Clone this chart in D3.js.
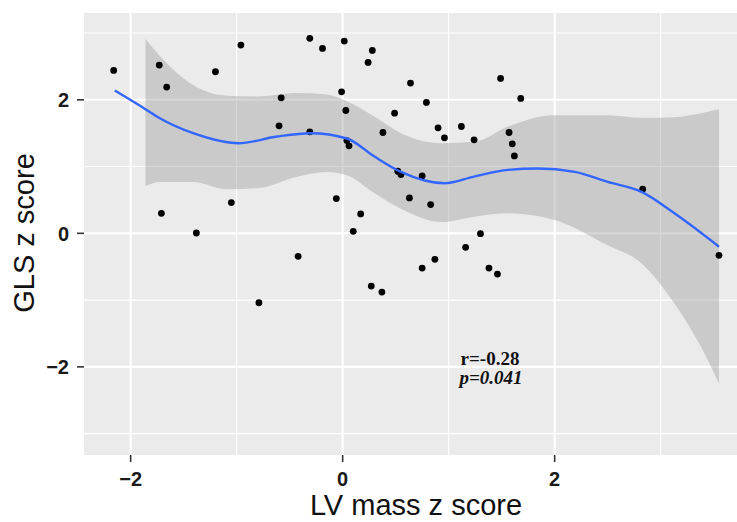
<!DOCTYPE html>
<html>
<head>
<meta charset="utf-8">
<script src="https://cdn.jsdelivr.net/npm/d3@7"></script>
<style>
  body { margin: 0; background: #fff; }
</style>
</head>
<body>
<script>
// scatter points (LV mass z, GLS z)
const lvMass = [-2.16, -1.73, -1.66, -1.20, -0.96, -0.31, -0.19, 0.015, 0.28, 0.24,
  -0.58, -0.60, -0.31, -0.01, 0.03, 0.04, 0.06, 0.49, 0.38, 0.52,
  0.55, 0.64, 0.79, 0.90, 0.96, 1.12, 1.24, 1.49, 1.68, 1.57,
  1.60, 1.62, 0.75, 0.63, 0.83, 2.83, 3.55, -1.71, -1.38, -1.05,
  -0.06, 0.17, 0.10, -0.42, 1.30, 1.16, 0.87, 0.75, 1.38, 1.46,
  -0.79, 0.27, 0.37];
const glsZ = [2.44, 2.52, 2.19, 2.42, 2.82, 2.92, 2.77, 2.88, 2.74, 2.56,
  2.03, 1.61, 1.52, 2.12, 1.84, 1.39, 1.31, 1.80, 1.51, 0.93,
  0.88, 2.25, 1.96, 1.58, 1.43, 1.60, 1.40, 2.32, 2.02, 1.51,
  1.34, 1.16, 0.86, 0.53, 0.43, 0.66, -0.33, 0.30, 0.005, 0.46,
  0.52, 0.29, 0.03, -0.345, -0.005, -0.21, -0.39, -0.52, -0.52, -0.61,
  -1.04, -0.79, -0.88];

// loess fit line
const fitX = [-2.15, -1.86, -1.72, -1.41, -0.98, -0.62, -0.30, 0.04, 0.30, 0.55,
  0.96, 1.24, 1.56, 1.84, 2.19, 2.50, 2.82, 3.13, 3.55];
const fitY = [2.14, 1.86, 1.72, 1.50, 1.35, 1.45, 1.50, 1.42, 1.15, 0.92,
  0.75, 0.85, 0.95, 0.97, 0.92, 0.77, 0.62, 0.30, -0.20];

// confidence band
const bandX = [-1.86, -1.72, -1.41, -1.09, -0.78, -0.45, -0.15, 0.04, 0.30, 0.55,
  0.93, 1.24, 1.56, 2.00, 2.50, 2.82, 3.13, 3.38, 3.55];
const bandHigh = [2.91, 2.65, 2.22, 2.06, 2.05, 2.10, 2.08, 1.98, 1.75, 1.50,
  1.35, 1.37, 1.60, 1.77, 1.77, 1.73, 1.74, 1.80, 1.86];
const bandLow = [0.71, 0.77, 0.77, 0.66, 0.68, 0.84, 0.92, 0.87, 0.60, 0.37,
  0.17, 0.25, 0.30, 0.20, -0.18, -0.45, -1.05, -1.70, -2.25];

const majorTicks = [-2, 0, 2];
const minorTicks = [-3, -1, 1, 3];
const statLines = ["r=-0.28", "p=0.041"];

const width = 737, height = 522;
const panel = { left: 84, right: 737, top: 13, bottom: 455 };

const x = d3.scaleLinear().domain([-2.44, 3.72]).range([panel.left, panel.right]);
const y = d3.scaleLinear().domain([-3.32, 3.30]).range([panel.bottom, panel.top]);

const svg = d3.select("body").append("svg")
  .attr("width", width)
  .attr("height", height);

svg.append("rect")
  .attr("x", panel.left).attr("y", panel.top)
  .attr("width", panel.right - panel.left)
  .attr("height", panel.bottom - panel.top)
  .attr("fill", "#ebebeb");

const grid = svg.append("g");

grid.selectAll(".vminor").data(minorTicks.filter(d => x(d) >= panel.left && x(d) <= panel.right))
  .join("line")
  .attr("x1", d => x(d)).attr("x2", d => x(d))
  .attr("y1", panel.top).attr("y2", panel.bottom)
  .attr("stroke", "#fff").attr("stroke-width", 1.1);

grid.selectAll(".hminor").data(minorTicks)
  .join("line")
  .attr("x1", panel.left).attr("x2", panel.right)
  .attr("y1", d => y(d)).attr("y2", d => y(d))
  .attr("stroke", "#fff").attr("stroke-width", 1.1);

grid.selectAll(".vmajor").data(majorTicks)
  .join("line")
  .attr("x1", d => x(d)).attr("x2", d => x(d))
  .attr("y1", panel.top).attr("y2", panel.bottom)
  .attr("stroke", "#fff").attr("stroke-width", 2.1);

grid.selectAll(".hmajor").data(majorTicks)
  .join("line")
  .attr("x1", panel.left).attr("x2", panel.right)
  .attr("y1", d => y(d)).attr("y2", d => y(d))
  .attr("stroke", "#fff").attr("stroke-width", 2.1);

// ribbon
const band = bandX.map((d, i) => ({ x: d, lo: bandLow[i], hi: bandHigh[i] }));
svg.append("path")
  .datum(band)
  .attr("d", d3.area()
    .x(d => x(d.x))
    .y0(d => y(d.lo))
    .y1(d => y(d.hi))
    .curve(d3.curveMonotoneX))
  .attr("fill", "#999999")
  .attr("fill-opacity", 0.4);

// points
svg.append("g").selectAll("circle")
  .data(lvMass.map((d, i) => [d, glsZ[i]]))
  .join("circle")
  .attr("cx", d => x(d[0]))
  .attr("cy", d => y(d[1]))
  .attr("r", 3.4)
  .attr("fill", "#000");

// fit line
svg.append("path")
  .datum(fitX.map((d, i) => [d, fitY[i]]))
  .attr("d", d3.line()
    .x(d => x(d[0]))
    .y(d => y(d[1]))
    .curve(d3.curveMonotoneX))
  .attr("fill", "none")
  .attr("stroke", "#3366ff")
  .attr("stroke-width", 2.4);

// axes
const tickFont = "'Liberation Sans', Arial, sans-serif";
const fmt = d => d < 0 ? "\u2212" + Math.abs(d) : String(d);

const yAxis = svg.append("g");
yAxis.selectAll("line").data(majorTicks).join("line")
  .attr("x1", panel.left - 7).attr("x2", panel.left)
  .attr("y1", d => y(d)).attr("y2", d => y(d))
  .attr("stroke", "#333").attr("stroke-width", 1.6);
yAxis.selectAll("text").data(majorTicks).join("text")
  .attr("x", panel.left - 15)
  .attr("y", d => y(d))
  .attr("dy", "0.36em")
  .attr("text-anchor", "end")
  .attr("font-family", tickFont)
  .attr("font-weight", "bold")
  .attr("font-size", 20)
  .attr("fill", "#1a1a1a")
  .text(fmt);

const xAxis = svg.append("g");
xAxis.selectAll("line").data(majorTicks).join("line")
  .attr("x1", d => x(d)).attr("x2", d => x(d))
  .attr("y1", panel.bottom).attr("y2", panel.bottom + 7)
  .attr("stroke", "#333").attr("stroke-width", 1.6);
xAxis.selectAll("text").data(majorTicks).join("text")
  .attr("x", d => x(d))
  .attr("y", 486)
  .attr("text-anchor", "middle")
  .attr("font-family", tickFont)
  .attr("font-weight", "bold")
  .attr("font-size", 20)
  .attr("fill", "#1a1a1a")
  .text(fmt);

svg.append("text")
  .attr("x", 416).attr("y", 515)
  .attr("text-anchor", "middle")
  .attr("font-family", tickFont)
  .attr("font-size", 29)
  .attr("fill", "#111")
  .text("LV mass z score");

svg.append("text")
  .attr("transform", "translate(34,233) rotate(-90)")
  .attr("text-anchor", "middle")
  .attr("font-family", tickFont)
  .attr("font-size", 29)
  .attr("fill", "#111")
  .text("GLS z score");

// annotation
const ann = svg.append("g")
  .attr("font-family", "'Liberation Serif', 'Times New Roman', serif")
  .attr("font-weight", "bold")
  .attr("font-size", 19)
  .attr("fill", "#111")
  .attr("text-anchor", "middle");
ann.append("text").attr("x", 490).attr("y", 365).text(statLines[0]);
ann.append("text").attr("x", 491).attr("y", 384)
  .attr("font-style", "italic").text(statLines[1]);
</script>
</body>
</html>
